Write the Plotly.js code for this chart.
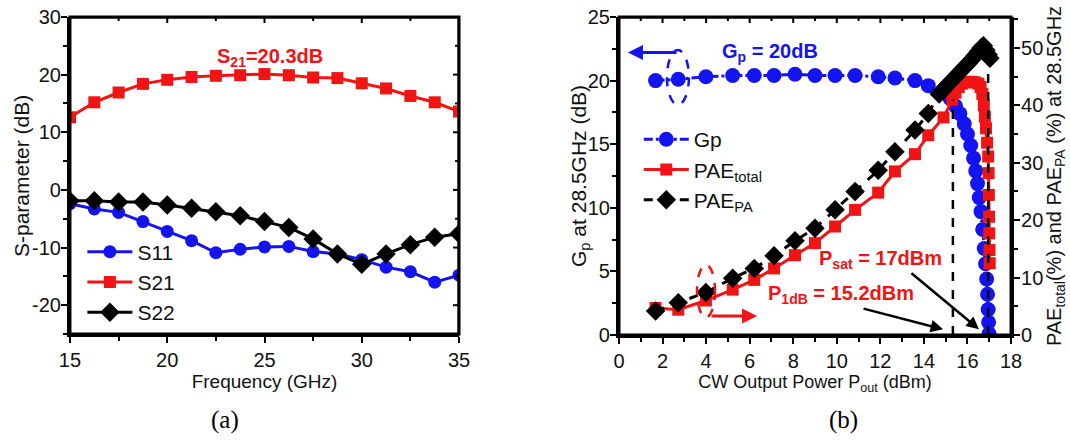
<!DOCTYPE html>
<html>
<head>
<meta charset="utf-8">
<script src="https://cdn.plot.ly/plotly-3.0.1.min.js"></script>
<style>
html,body{margin:0;padding:0;background:#fff;}
#chart{width:1070px;height:441px;}
</style>
</head>
<body>
<div id="chart"></div>
<script>
// ---------- (a) S-parameters ----------
const freqGHz = [15, 16.25, 17.5, 18.75, 20, 21.25, 22.5, 23.75, 25, 26.25, 27.5, 28.75, 30, 31.25, 32.5, 33.75, 35];
const s11 = [-2.4, -3.3, -3.9, -5.5, -7.2, -8.8, -10.9, -10.3, -9.9, -9.8, -10.7, -11.1, -12.1, -13.4, -14.2, -16.0, -14.8];
const s21 = [12.6, 15.2, 16.9, 18.4, 19.1, 19.6, 19.8, 19.9, 20.1, 19.9, 19.5, 19.4, 18.5, 17.6, 16.3, 15.2, 13.6];
const s22 = [-1.9, -1.9, -2.1, -2.1, -2.6, -3.2, -3.8, -4.5, -5.5, -6.5, -8.5, -11.1, -12.9, -11.1, -9.5, -8.2, -7.6];
const freqRange = [15, 35];
const sRange = [-25, 30];
const freqTicks = [15, 20, 25, 30, 35];
const freqMinorTicks = [17.5, 22.5, 27.5, 32.5];
const sTickVals = [-20, -10, 0, 10, 20, 30];
const sTickText = ['-20', '-10', '0', '10', '20', '30'];
const sMinorTicks = [-25, -15, -5, 5, 15, 25];

// ---------- (b) Power sweep at 28.5 GHz ----------
const gpPout = [1.68, 2.72, 3.99, 5.22, 6.21, 7.12, 8.08, 9.0, 9.92, 10.84, 11.9, 12.67, 13.59, 14.2, 14.8, 15.2, 15.45, 15.65, 15.85, 16.0, 16.15, 16.28, 16.38, 16.46, 16.54, 16.62, 16.7, 16.77, 16.83, 16.88, 16.92, 16.95, 16.97, 16.99];
const gpDb = [20.0, 20.1, 20.3, 20.4, 20.4, 20.4, 20.5, 20.4, 20.4, 20.4, 20.3, 20.2, 20.0, 19.6, 19.1, 18.6, 18.0, 17.4, 16.6, 15.8, 14.9, 13.9, 12.9, 11.9, 10.8, 9.7, 8.3, 6.8, 5.6, 4.4, 3.2, 2.0, 1.0, 0.1];

const paeTotPout = [1.68, 2.72, 3.99, 5.22, 6.21, 7.12, 8.08, 9.0, 9.92, 10.84, 11.9, 12.67, 13.59, 14.2, 14.9, 15.3, 15.45, 15.6, 15.75, 15.9, 16.05, 16.2, 16.35, 16.5, 16.6, 16.68, 16.75, 16.8, 16.85, 16.9, 16.95, 16.97, 16.98, 16.99, 17.0, 17.01, 17.02];
const paeTot = [4.7, 4.4, 6.0, 7.9, 9.6, 11.6, 13.9, 16.0, 18.9, 21.8, 24.8, 28.5, 31.5, 34.8, 37.9, 41.0, 42.2, 43.2, 43.8, 44.0, 44.1, 44.1, 44.0, 43.8, 43.2, 42.0, 40.0, 38.0, 36.0, 33.5, 31.1, 28.2, 24.4, 20.6, 17.7, 14.8, 12.5];

const paePaPout = [1.68, 2.72, 3.99, 5.22, 6.21, 7.12, 8.08, 9.0, 9.92, 10.84, 11.9, 12.67, 13.59, 14.2, 14.7, 14.85, 15.0, 15.15, 15.3, 15.45, 15.6, 15.75, 15.9, 16.05, 16.2, 16.35, 16.5, 16.62, 16.73, 16.85, 16.95, 17.03];
const paePa = [4.2, 5.6, 7.4, 9.9, 11.6, 13.8, 16.4, 18.6, 21.8, 25.0, 28.7, 31.9, 35.7, 38.6, 42.0, 42.6, 43.2, 43.8, 44.4, 45.0, 45.6, 46.2, 46.8, 47.4, 48.0, 48.7, 49.4, 50.0, 50.4, 49.6, 48.8, 48.2];
const poutRange = [0, 18];
const gpRange = [0, 25];
const paeRange = [0, 55.4];
const poutTicks = [0, 2, 4, 6, 8, 10, 12, 14, 16, 18];
const poutMinorTicks = [1, 3, 5, 7, 9, 11, 13, 15, 17];

// reference lines (drawn position) and label texts
const p1dbLine = 15.33, p1dbTop = 18.5;
const psatLine = 16.95, psatTop = 21.9;

const BLUE = '#1414f0', RED = '#f01414', BLACK = '#000000';
const FONT = '"Liberation Sans", Arial, sans-serif';

const W = 1070, H = 441;
const DOM_AX = [0.0654, 0.429], DOM_AY = [0.2426, 0.9615];
const DOM_BX = [0.5785, 0.9449], DOM_BY = [0.2404, 0.9615];

// frame (top/right border) drawn as a line trace along the axis range ends
function frameTrace(xa, ya, xs, ys) {
  return {x: xs, y: ys, type: 'scatter', mode: 'lines', xaxis: xa, yaxis: ya, showlegend: false,
          hoverinfo: 'skip', cliponaxis: false, line: {color: '#000', width: 3}};
}
// inward mirrored ticks on the top edge, lengths converted from px to data units
function topTickTrace(xa, ya, vals, yRange, domY, lenPx) {
  const d = (yRange[1] - yRange[0]) * lenPx / ((domY[1] - domY[0]) * H);
  const xs = [], ys = [];
  vals.forEach(v => { xs.push(v, v, null); ys.push(yRange[1], yRange[1] - d, null); });
  return {x: xs, y: ys, type: 'scatter', mode: 'lines', xaxis: xa, yaxis: ya, showlegend: false,
          hoverinfo: 'skip', cliponaxis: false, line: {color: '#000', width: 2}};
}
function rightTickTrace(xa, ya, vals, xRange, domX, lenPx) {
  const d = (xRange[1] - xRange[0]) * lenPx / ((domX[1] - domX[0]) * W);
  const xs = [], ys = [];
  vals.forEach(v => { xs.push(xRange[1], xRange[1] - d, null); ys.push(v, v, null); });
  return {x: xs, y: ys, type: 'scatter', mode: 'lines', xaxis: xa, yaxis: ya, showlegend: false,
          hoverinfo: 'skip', cliponaxis: false, line: {color: '#000', width: 2}};
}

const traces = [
  {x: freqGHz, y: s11, name: 'S11', type: 'scatter', mode: 'lines+markers', xaxis: 'x', yaxis: 'y', legend: 'legend',
   line: {color: BLUE, width: 3}, marker: {symbol: 'circle', size: 13, color: BLUE}},
  {x: freqGHz, y: s21, name: 'S21', type: 'scatter', mode: 'lines+markers', xaxis: 'x', yaxis: 'y', legend: 'legend',
   line: {color: RED, width: 3}, marker: {symbol: 'square', size: 12, color: RED}},
  {x: freqGHz, y: s22, name: 'S22', type: 'scatter', mode: 'lines+markers', xaxis: 'x', yaxis: 'y', legend: 'legend',
   line: {color: BLACK, width: 3}, marker: {symbol: 'diamond', size: 15, color: BLACK}},
  {x: gpPout, y: gpDb, name: 'Gp', type: 'scatter', mode: 'lines+markers', xaxis: 'x2', yaxis: 'y2', legend: 'legend2',
   line: {color: BLUE, width: 3, dash: 'dashdot'}, marker: {symbol: 'circle', size: 15, color: BLUE}},
  {x: paeTotPout, y: paeTot, name: 'PAE<sub>total</sub>', type: 'scatter', mode: 'lines+markers', xaxis: 'x2', yaxis: 'y4', legend: 'legend2',
   line: {color: RED, width: 3}, marker: {symbol: 'square', size: 12, color: RED}},
  {x: paePaPout, y: paePa, name: 'PAE<sub>PA</sub>', type: 'scatter', mode: 'lines+markers', xaxis: 'x2', yaxis: 'y4', legend: 'legend2',
   line: {color: BLACK, width: 3, dash: 'dash'}, marker: {symbol: 'diamond', size: 15, color: BLACK}},
  // frame
  frameTrace('x', 'y', [freqRange[0], freqRange[1], freqRange[1]], [sRange[1], sRange[1], sRange[0]]),
  topTickTrace('x', 'y', freqTicks, sRange, DOM_AY, 6),
  topTickTrace('x', 'y', freqMinorTicks, sRange, DOM_AY, 4),
  rightTickTrace('x', 'y', sTickVals, freqRange, DOM_AX, 6),
  rightTickTrace('x', 'y', sMinorTicks, freqRange, DOM_AX, 4),
  frameTrace('x2', 'y2', [poutRange[0], poutRange[1]], [gpRange[1], gpRange[1]]),
  topTickTrace('x2', 'y2', poutTicks, gpRange, DOM_BY, 6),
  topTickTrace('x2', 'y2', poutMinorTicks, gpRange, DOM_BY, 4)
];

const tickFont = {family: FONT, size: 20, color: '#111'};

function baseAxis(extra) {
  return Object.assign({
    showline: true, linewidth: 3, linecolor: '#000', showgrid: false, zeroline: false,
    ticks: 'outside', ticklen: 6, tickwidth: 2, tickcolor: '#000', tickfont: tickFont,
    fixedrange: true
  }, extra);
}

const layout = {
  width: W, height: H,
  margin: {l: 0, r: 0, t: 0, b: 0},
  paper_bgcolor: '#fff', plot_bgcolor: 'rgba(0,0,0,0)',
  font: {family: FONT, color: '#111'},
  showlegend: true,
  xaxis: baseAxis({domain: DOM_AX, range: freqRange, anchor: 'y', tickvals: freqTicks,
    minor: {ticks: 'outside', ticklen: 4, tickwidth: 2, dtick: 2.5, tick0: 15, tickcolor: '#000'},
    title: {text: 'Frequency (GHz)', font: {family: FONT, size: 19, color: '#111'}, standoff: 2}}),
  yaxis: baseAxis({domain: DOM_AY, range: sRange, anchor: 'x', tickvals: sTickVals, ticktext: sTickText, ticklabelstandoff: -4,
    minor: {ticks: 'outside', ticklen: 4, tickwidth: 2, dtick: 5, tick0: 0, tickcolor: '#000'}}),

  xaxis2: baseAxis({domain: DOM_BX, range: poutRange, anchor: 'y2', tickvals: poutTicks,
    minor: {ticks: 'outside', ticklen: 4, tickwidth: 2, dtick: 1, tick0: 0, tickcolor: '#000'},
    title: {text: 'CW Output Power P<sub>out</sub> (dBm)', font: {family: FONT, size: 18, color: '#111'}, standoff: 2}}),
  yaxis2: baseAxis({domain: DOM_BY, range: gpRange, anchor: 'x2', dtick: 5, tick0: 0, ticklabelstandoff: -4,
    minor: {ticks: 'outside', ticklen: 4, tickwidth: 2, dtick: 2.5, tick0: 0, tickcolor: '#000'}}),
  yaxis4: baseAxis({overlaying: 'y2', side: 'right', anchor: 'x2', range: paeRange, dtick: 10, tick0: 0, ticklabelstandoff: -3,
    minor: {ticks: 'outside', ticklen: 4, tickwidth: 2, dtick: 5, tick0: 0, tickcolor: '#000'},
    title: {text: 'PAE<sub>total</sub>(%) and PAE<sub>PA</sub> (%) at 28.5GHz', font: {family: FONT, size: 20, color: '#111'}, standoff: 2}}),

  legend: {x: 0.077, y: 0.475, xanchor: 'left', yanchor: 'top', bgcolor: 'rgba(0,0,0,0)', borderwidth: 0,
    font: {family: FONT, size: 21, color: '#111'}, itemwidth: 45, tracegroupgap: 0},
  legend2: {x: 0.597, y: 0.73, xanchor: 'left', yanchor: 'top', bgcolor: 'rgba(0,0,0,0)', borderwidth: 0,
    font: {family: FONT, size: 21, color: '#111'}, itemwidth: 45, tracegroupgap: 0},

  shapes: [
    // plot-area boxes (paper coordinates taken from the axis domains, not clipped)
    {type: 'rect', xref: 'paper', yref: 'paper', x0: DOM_AX[0], x1: DOM_AX[1], y0: DOM_AY[0], y1: DOM_AY[1],
     line: {color: '#000', width: 3}, fillcolor: 'rgba(0,0,0,0)', layer: 'above'},
    {type: 'rect', xref: 'paper', yref: 'paper', x0: DOM_BX[0], x1: DOM_BX[1], y0: DOM_BY[0], y1: DOM_BY[1],
     line: {color: '#000', width: 3}, fillcolor: 'rgba(0,0,0,0)', layer: 'above'},
    {type: 'line', xref: 'x2', yref: 'y2', x0: p1dbLine, x1: p1dbLine, y0: 0, y1: p1dbTop, line: {color: '#000', width: 2.5, dash: 'dash'}},
    {type: 'line', xref: 'x2', yref: 'y2', x0: psatLine, x1: psatLine, y0: 0, y1: psatTop, line: {color: '#000', width: 2.5, dash: 'dash'}},
    {type: 'circle', xref: 'x2', yref: 'y2', x0: 2.2, x1: 3.21, y0: 18.1, y1: 22.4, line: {color: BLUE, width: 2.5, dash: 'dash'}},
    {type: 'circle', xref: 'x2', yref: 'y2', x0: 3.58, x1: 4.41, y0: 1.4, y1: 5.5, line: {color: RED, width: 2.5, dash: 'dash'}}
  ],
  annotations: [
    // y-axis titles placed exactly
    {xref: 'paper', yref: 'paper', x: 21 / W, y: 1 - 176 / H, xanchor: 'center', yanchor: 'middle', textangle: -90,
     text: 'S-parameter (dB)', showarrow: false, font: {family: FONT, size: 21, color: '#111'}},
    {xref: 'paper', yref: 'paper', x: 580 / W, y: 1 - 176 / H, xanchor: 'center', yanchor: 'middle', textangle: -90,
     text: 'G<sub>p</sub> at 28.5GHz (dB)', showarrow: false, font: {family: FONT, size: 21, color: '#111'}},
    // labels
    {xref: 'x', yref: 'y', x: 25.3, y: 23.0, text: '<b>S<sub>21</sub>=20.3dB</b>', showarrow: false, font: {family: FONT, size: 20, color: RED}},
    {xref: 'x2', yref: 'y2', x: 6.93, y: 22.2, text: '<b>G<sub>p</sub> = 20dB</b>', showarrow: false, font: {family: FONT, size: 20, color: BLUE}},
    {xref: 'x2', yref: 'y2', x: 12.0, y: 5.9, text: '<b>P<sub>sat</sub> = 17dBm</b>', showarrow: false, font: {family: FONT, size: 20, color: RED}},
    {xref: 'x2', yref: 'y2', x: 10.2, y: 3.15, text: '<b>P<sub>1dB</sub> = 15.2dBm</b>', showarrow: false, font: {family: FONT, size: 20, color: RED}},
    // arrows
    {xref: 'x2', yref: 'y2', axref: 'x2', ayref: 'y2', x: 0.41, y: 22.2, ax: 2.71, ay: 22.2, text: '', showarrow: true, arrowhead: 2, arrowsize: 1, arrowwidth: 3, arrowcolor: BLUE},
    {xref: 'x2', yref: 'y2', axref: 'x2', ayref: 'y2', x: 6.34, y: 1.5, ax: 4.18, ay: 1.5, text: '', showarrow: true, arrowhead: 2, arrowsize: 1, arrowwidth: 3, arrowcolor: RED},
    {xref: 'x2', yref: 'y2', axref: 'x2', ayref: 'y2', x: 14.88, y: 0.45, ax: 11.16, ay: 2.1, text: '', showarrow: true, arrowhead: 2, arrowsize: 1, arrowwidth: 2.5, arrowcolor: '#000'},
    {xref: 'x2', yref: 'y2', axref: 'x2', ayref: 'y2', x: 16.53, y: 0.45, ax: 13.36, ay: 4.95, text: '', showarrow: true, arrowhead: 2, arrowsize: 1, arrowwidth: 2.5, arrowcolor: '#000'},
    // captions
    {xref: 'paper', yref: 'paper', x: 225 / W, y: 1 - 420 / H, xanchor: 'center', yanchor: 'middle', text: '(a)', showarrow: false, font: {family: '"Liberation Serif", "Times New Roman", serif', size: 25, color: '#000'}},
    {xref: 'paper', yref: 'paper', x: 843 / W, y: 1 - 420 / H, xanchor: 'center', yanchor: 'middle', text: '(b)', showarrow: false, font: {family: '"Liberation Serif", "Times New Roman", serif', size: 25, color: '#000'}}
  ]
};

Plotly.newPlot('chart', traces, layout, {displayModeBar: false, staticPlot: true});
</script>
</body>
</html>
